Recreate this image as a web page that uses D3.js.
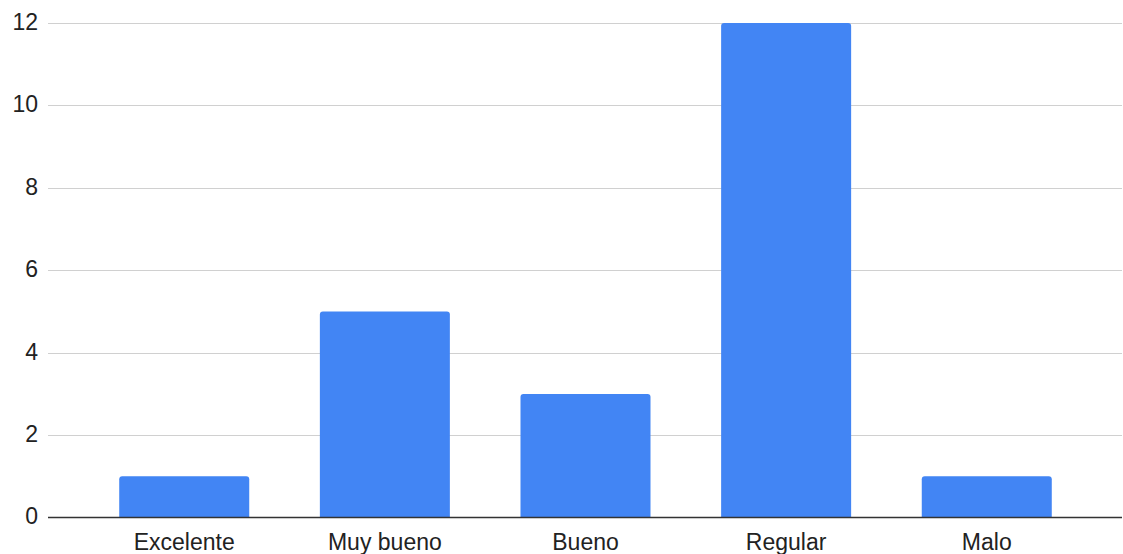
<!DOCTYPE html>
<html>
<head>
<meta charset="utf-8">
<script src="https://cdn.jsdelivr.net/npm/d3@7"></script>
<style>
  html, body { margin: 0; padding: 0; background: #fff; }
  svg { display: block; }
  text { font-family: "Liberation Sans", Arial, sans-serif; fill: #222; }
</style>
</head>
<body>
<svg id="chart" width="1123" height="554"></svg>
<script>
// Ratings and their counts
const categories = ["Excelente", "Muy bueno", "Bueno", "Regular", "Malo"];
const counts = [1, 5, 3, 12, 1];
const yTicks = [0, 2, 4, 6, 8, 10, 12];

const width = 1123, height = 554;
const margin = { top: 23, right: 0, bottom: 36.5, left: 48 };

const svg = d3.select("#chart");

const x = d3.scaleBand()
  .domain(categories)
  .range([margin.left, width - margin.right])
  .paddingInner(0.352)
  .paddingOuter(0.355);

const y = d3.scaleLinear()
  .domain([0, 12])
  .range([height - margin.bottom, margin.top]);

// Horizontal gridlines
svg.append("g")
  .selectAll("line")
  .data(yTicks.filter(d => d !== 0))
  .join("line")
  .attr("x1", margin.left)
  .attr("x2", width - 1)
  .attr("y1", d => Math.round(y(d)) + 0.5)
  .attr("y2", d => Math.round(y(d)) + 0.5)
  .attr("stroke", "#d0d0d0")
  .attr("stroke-width", 1.2);

// Y axis tick labels
const yAxis = d3.axisLeft(y).tickValues(yTicks).tickSize(0).tickPadding(0);
const gy = svg.append("g")
  .attr("transform", `translate(${margin.left - 10},0)`)
  .call(yAxis);
gy.select(".domain").remove();
gy.selectAll("text")
  .attr("font-size", 23)
  .attr("dy", "0.28em")
  .style("font-family", '"Liberation Sans", Arial, sans-serif')
  .attr("fill", "#222");

// Bars with rounded top corners
const r = 3;
function barPath(x0, w, y0, y1) {
  return `M${x0},${y1}V${y0 + r}Q${x0},${y0} ${x0 + r},${y0}H${x0 + w - r}Q${x0 + w},${y0} ${x0 + w},${y0 + r}V${y1}Z`;
}
svg.append("g")
  .selectAll("path")
  .data(categories.map((c, i) => ({ c, v: counts[i] })))
  .join("path")
  .attr("d", d => barPath(x(d.c), x.bandwidth(), y(d.v), y(0)))
  .attr("fill", "#4285f4");

// Baseline
svg.append("line")
  .attr("x1", margin.left)
  .attr("x2", width - 1)
  .attr("y1", y(0))
  .attr("y2", y(0))
  .attr("stroke", "#333")
  .attr("stroke-width", 1.5);

// X axis category labels
const xAxis = d3.axisBottom(x).tickSize(0).tickPadding(0);
const gx = svg.append("g")
  .attr("transform", `translate(0,${y(0)})`)
  .call(xAxis);
gx.select(".domain").remove();
gx.selectAll("text")
  .attr("font-size", 23)
  .attr("dy", null)
  .attr("y", 32.5)
  .style("font-family", '"Liberation Sans", Arial, sans-serif')
  .attr("fill", "#222");
</script>
</body>
</html>
